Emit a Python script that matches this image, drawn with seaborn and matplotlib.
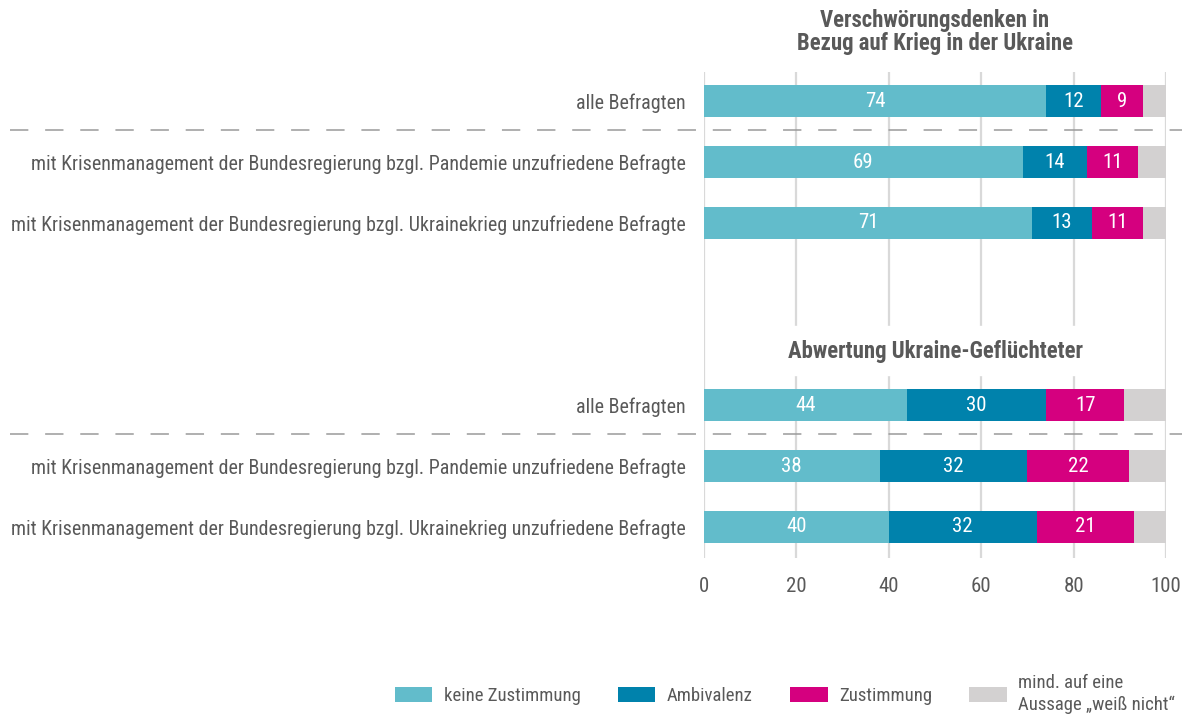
import numpy as np
import pandas as pd
import matplotlib.pyplot as plt
import matplotlib.transforms as mtransforms
from matplotlib.patches import Patch
import seaborn as sns

sns.set_style("white")
plt.rcParams['font.family'] = ['Roboto Condensed', 'DejaVu Sans']

# data
rows = [
    "alle Befragten",
    "mit Krisenmanagement der Bundesregierung bzgl. Pandemie unzufriedene Befragte",
    "mit Krisenmanagement der Bundesregierung bzgl. Ukrainekrieg unzufriedene Befragte",
    "alle Befragten",
    "mit Krisenmanagement der Bundesregierung bzgl. Pandemie unzufriedene Befragte",
    "mit Krisenmanagement der Bundesregierung bzgl. Ukrainekrieg unzufriedene Befragte",
]
row_pos = [0, 1, 2, 5, 6, 7]
keine = [74, 69, 71, 44, 38, 40]
ambivalenz = [12, 14, 13, 30, 32, 32]
zustimmung = [9, 11, 11, 17, 22, 21]
weiss_nicht = [5, 6, 5, 9, 8, 7]

group_titles = ["Verschwörungsdenken in\nBezug auf Krieg in der Ukraine",
                "Abwertung Ukraine-Geflüchteter"]
series_names = ["keine Zustimmung", "Ambivalenz", "Zustimmung",
                "mind. auf eine\nAussage „weiß nicht“"]
colors = ["#62bccb", "#0082ac", "#d5007f", "#d3d1d1"]
text_col = "#595959"

df = pd.DataFrame({"pos": row_pos, "keine": keine, "amb": ambivalenz,
                   "zust": zustimmung, "wn": weiss_nicht})
df["c1"] = df["keine"]
df["c2"] = df["c1"] + df["amb"]
df["c3"] = df["c2"] + df["zust"]
df["c4"] = df["c3"] + df["wn"]

fig = plt.figure(figsize=(11.82, 7.2), dpi=100)
ax = fig.add_axes([704 / 1182, 1 - 558 / 720, 462 / 1182, 486 / 720])

# stacked bars: draw cumulative totals from longest to shortest
for col, c in zip(["c4", "c3", "c2", "c1"], colors[::-1]):
    sns.barplot(data=df, x=col, y="pos", orient="h", native_scale=True,
                color=c, width=0.53, saturation=1, ax=ax, zorder=3,
                edgecolor="none")

# value labels
for _, r in df.iterrows():
    for val, left in [(r["keine"], 0), (r["amb"], r["c1"]), (r["zust"], r["c2"])]:
        ax.text(left + val / 2, r["pos"], f"{int(val)}", color="white",
                ha="center", va="center", fontsize=15, zorder=5)

ax.set_xlim(0, 100)
ax.set_ylim(7.51, -0.48)
ax.set_xticks(range(0, 101, 20))
ax.set_yticks(row_pos)
ax.set_yticklabels(rows)
ax.tick_params(axis="y", length=0, pad=13, labelsize=14.4, labelcolor=text_col)
ax.tick_params(axis="x", length=0, pad=14, labelsize=15, labelcolor=text_col)
ax.set_xlabel("")
ax.set_ylabel("")
ax.grid(axis="x", color="#d9d9d9", linewidth=1.6, zorder=0)
ax.set_axisbelow(True)
sns.despine(ax=ax, left=True, bottom=True)

# white box under second group title
ax.axhspan(3.70, 4.50, xmin=0.006, xmax=0.994, color="white", zorder=2)
ax.text(50, -1.14, group_titles[0], ha="center", va="center", fontsize=16.4,
        fontweight="bold", color=text_col, linespacing=1.0)
ax.text(50, 4.11, group_titles[1], ha="center", va="center", fontsize=16.4,
        fontweight="bold", color=text_col, zorder=4)

# dashed separators across the full width
trans = mtransforms.blended_transform_factory(fig.transFigure, ax.transData)
for yy in [0.47, 5.47]:
    ax.plot([10 / 1182, 1.0], [yy, yy], transform=trans, clip_on=False,
            color="#9a9a9a", linewidth=1.1, dashes=(12, 11), zorder=4)

handles = [Patch(facecolor=c, edgecolor="none") for c in colors]
fig.legend(handles, series_names, loc="center", bbox_to_anchor=(0.664, 0.036),
           ncol=4, frameon=False, fontsize=13.5, handlelength=2.0,
           handleheight=0.8, columnspacing=2.0, handletextpad=0.6,
           labelcolor=text_col, labelspacing=0.2)

fig.savefig("out.png", dpi=100)
